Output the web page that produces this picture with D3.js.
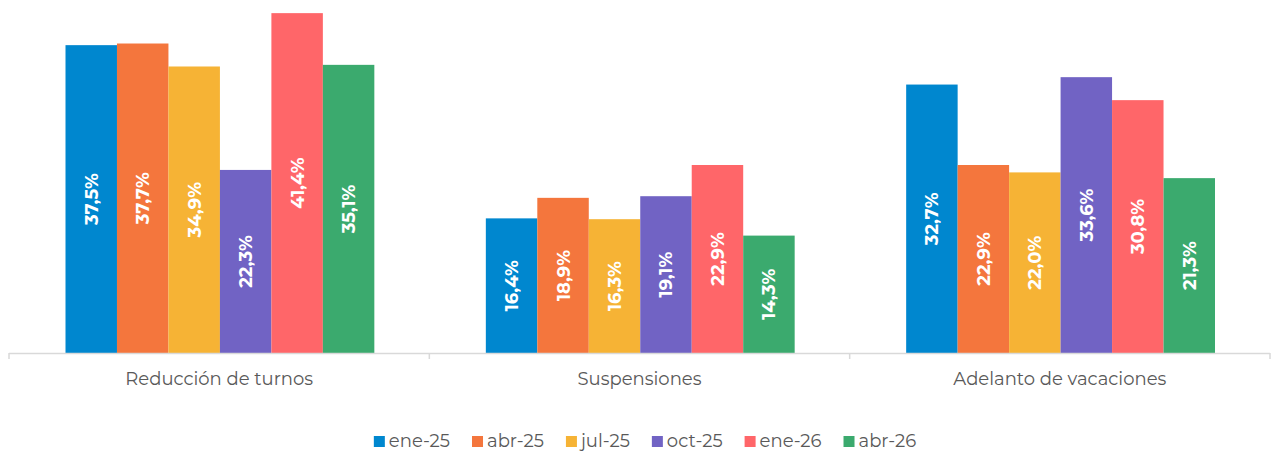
<!DOCTYPE html>
<html>
  <head>
    <meta charset="utf-8">
    <style>
    body { margin: 0; background: #fff; }
    text { font-family: Montserrat, Inter, 'Noto Sans', sans-serif; }
    </style>
  </head>
  <body>

    <svg width="1278" height="452"></svg>

    <script src="https://cdn.jsdelivr.net/npm/d3@7/dist/d3.min.js"></script>
    <script>

      const categories = ['Reducción de turnos', 'Suspensiones', 'Adelanto de vacaciones']
      const seriesNames = ['ene-25', 'abr-25', 'jul-25', 'oct-25', 'ene-26', 'abr-26']
      const colors = ['#0087cf', '#f4763d', '#f6b335', '#7163c4', '#ff6669', '#3baa6e']

      const ene25 = [37.5, 16.4, 32.7]
      const abr25 = [37.7, 18.9, 22.9]
      const jul25 = [34.9, 16.3, 22.0]
      const oct25 = [22.3, 19.1, 33.6]
      const ene26 = [41.4, 22.9, 30.8]
      const abr26 = [35.1, 14.3, 21.3]
      const values = [ene25, abr25, jul25, oct25, ene26, abr26]

      const svg = d3.select('svg')
      const left = 9, right = 1270, base = 353

      const x0 = d3.scaleBand().domain(categories).range([left, right]).paddingInner(0).paddingOuter(0)
      const x1 = d3.scaleBand().domain(seriesNames)
        .range([56.5, x0.bandwidth() - 55]).padding(0)
      const y = d3.scaleLinear().domain([0, 43]).range([base, 0])

      const rows = categories.map((c, i) => ({
        cat: c,
        vals: seriesNames.map((s, j) => ({ s, j, v: values[j][i] }))
      }))

      const groups = svg.append('g').selectAll('g')
        .data(rows)
        .join('g')
          .attr('transform', d => 'translate(' + x0(d.cat) + ',0)')

      groups.selectAll('rect')
        .data(d => d.vals)
        .join('rect')
          .attr('x', d => x1(d.s))
          .attr('y', d => y(d.v))
          .attr('width', x1.bandwidth())
          .attr('height', d => base - y(d.v))
          .attr('fill', d => colors[d.j])

      groups.selectAll('text')
        .data(d => d.vals)
        .join('text')
          .attr('transform', d => 'translate(' + (x1(d.s) + x1.bandwidth() / 2) + ',' + ((y(d.v) + base) / 2) + ') rotate(-90)')
          .attr('text-anchor', 'middle')
          .attr('dy', '0.36em')
          .attr('fill', '#fff')
          .attr('font-weight', 'bold')
          .attr('font-size', 18)
          .text(d => d.v.toFixed(1).replace('.', ',') + '%')

      // category axis
      const axis = svg.append('g')
      axis.append('line')
        .attr('x1', left).attr('x2', right)
        .attr('y1', base + 0.5).attr('y2', base + 0.5)
        .attr('stroke', '#d9d9d9').attr('stroke-width', 1.5)
      const tickXs = categories.map(c => x0(c)).concat([right])
      axis.selectAll('.tick')
        .data(tickXs)
        .join('line')
          .attr('x1', d => d).attr('x2', d => d)
          .attr('y1', base).attr('y2', base + 6)
          .attr('stroke', '#d9d9d9').attr('stroke-width', 1.5)
      axis.selectAll('text')
        .data(categories)
        .join('text')
          .attr('x', d => x0(d) + x0.bandwidth() / 2)
          .attr('y', 385)
          .attr('text-anchor', 'middle')
          .attr('fill', '#595959')
          .attr('font-size', 18)
          .text(d => d)

      // legend
      const legend = svg.append('g')
      const items = legend.selectAll('g')
        .data(seriesNames)
        .join('g')
      items.append('rect')
        .attr('width', 11).attr('height', 11)
        .attr('y', -11)
        .attr('fill', (d, i) => colors[i])
      items.append('text')
        .attr('x', 15)
        .attr('fill', '#595959')
        .attr('font-size', 18)
        .text(d => d)
      const gap = 22
      items.each(function () {
        this._w = 15 + this.querySelector('text').getComputedTextLength()
      })
      const total = d3.sum(items.nodes(), n => n._w) + gap * (seriesNames.length - 1)
      let pos = 645 - total / 2
      items.each(function () {
        d3.select(this).attr('transform', 'translate(' + pos + ',447)')
        pos += this._w + gap
      })

    </script>
  </body>
</html>
